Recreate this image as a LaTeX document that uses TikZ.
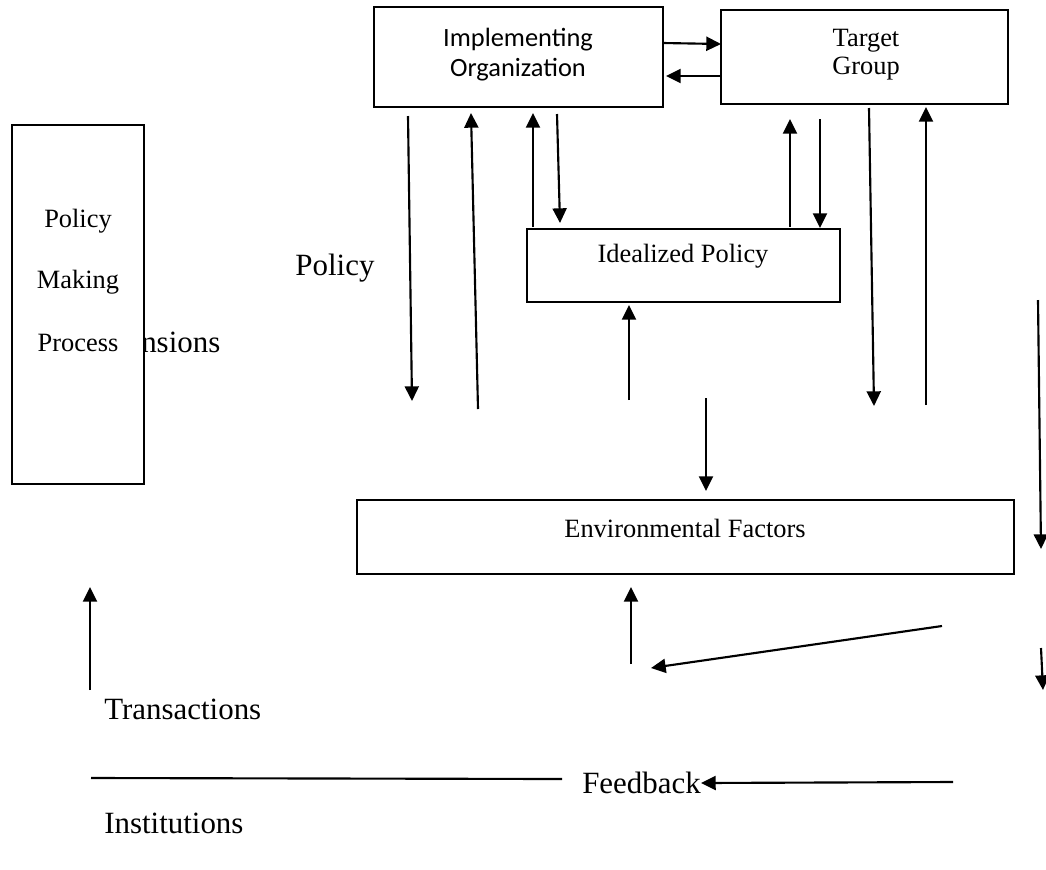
\documentclass[tikz,border=0pt]{standalone}
\usepackage{fontspec}
\setmainfont{Liberation Serif}
\newfontfamily\calfont{Carlito}
\usetikzlibrary{arrows.meta}
\tikzset{
  boxnode/.style={draw=black, line width=1.3pt, fill=white, rectangle, inner sep=0pt},
  txt/.style={inner sep=0pt, font=\fontsize{19.8pt}{23pt}\selectfont},
  bigtxt/.style={inner sep=0pt, font=\fontsize{23.2pt}{27pt}\selectfont},
  sanstxt/.style={inner sep=0pt, font=\calfont\fontsize{19.8pt}{23pt}\selectfont},
  arr/.style={line width=1.6pt, -{Triangle[length=11pt,width=10.5pt]}},
  plain/.style={line width=1.6pt}
}
\begin{document}
\begin{tikzpicture}[x=0.75pt, y=-0.75pt]
\useasboundingbox (0,0) rectangle (1046,869);
% text partly hidden behind the process box
\node[bigtxt, anchor=west] (dim) at (141,342) {nsions};
% boxes
\node[boxnode, minimum width=289*0.75pt, minimum height=100*0.75pt] (io) at (518.5,57) {};
\node[boxnode, minimum width=287*0.75pt, minimum height=94*0.75pt] (tg) at (864.5,57) {};
\node[boxnode, minimum width=132*0.75pt, minimum height=359*0.75pt] (pmp) at (78,304.5) {};
\node[boxnode, minimum width=313*0.75pt, minimum height=73*0.75pt] (ip) at (683.5,265.5) {};
\node[boxnode, minimum width=657*0.75pt, minimum height=74*0.75pt] (ef) at (685.5,537) {};
% box texts
\node[sanstxt] (io1) at (518,40) {Implementing};
\node[sanstxt] (io2) at (518,70) {Organization};
\node[txt] (tg1) at (866,41) {Target};
\node[txt] (tg2) at (866,69) {Group};
\node[txt] (p1) at (78,221) {Policy};
\node[txt] (p2) at (78,282) {Making};
\node[txt] (p3) at (78,343) {Process};
\node[txt] (ipt) at (683,256) {Idealized Policy};
\node[txt] (eft) at (685,528) {Environmental Factors};
% free texts
\node[bigtxt] (pol) at (335,268) {Policy};
\node[bigtxt, anchor=west] (tra) at (104,709) {Transactions};
\node[bigtxt, anchor=west] (fb) at (582,783) {Feedback};
\node[bigtxt, anchor=west] (ins) at (104,823) {Institutions};
% coordinates
\coordinate (a1s) at (408,116); \coordinate (a1e) at (412,401);
\coordinate (a2s) at (478,409); \coordinate (a2e) at (471,113);
\coordinate (a3s) at (533,227); \coordinate (a3e) at (533,113);
\coordinate (a4s) at (557,114); \coordinate (a4e) at (560,223);
\coordinate (a5s) at (629,400); \coordinate (a5e) at (629,305);
\coordinate (a6s) at (706,398); \coordinate (a6e) at (706,491);
\coordinate (a7s) at (790,227); \coordinate (a7e) at (790,119);
\coordinate (a8s) at (820,119); \coordinate (a8e) at (820,228);
\coordinate (a9s) at (869,108); \coordinate (a9e) at (874,406);
\coordinate (a10s) at (926,405); \coordinate (a10e) at (926,107);
\coordinate (a11s) at (1038,300); \coordinate (a11e) at (1041,549);
\coordinate (a12s) at (1041,648); \coordinate (a12e) at (1043,690);
\coordinate (a13s) at (631,664); \coordinate (a13e) at (631,587);
\coordinate (a14s) at (942,626); \coordinate (a14e) at (651,668);
\coordinate (a15s) at (953,782);
\coordinate (l16s) at (91,778); \coordinate (l16e) at (562,779);
\coordinate (a17s) at (90,690); \coordinate (a17e) at (90,587);
\coordinate (h1s) at (663,43); \coordinate (h1e) at (721,44);
\coordinate (h2s) at (721,76); \coordinate (h2e) at (666,76);
% arrows
\draw[arr] (h1s) -- (h1e);
\draw[arr] (h2s) -- (h2e);
\draw[arr] (a1s) -- (a1e);
\draw[arr] (a2s) -- (a2e);
\draw[arr] (a3s) -- (a3e);
\draw[arr] (a4s) -- (a4e);
\draw[arr] (a5s) -- (a5e);
\draw[arr] (a6s) -- (a6e);
\draw[arr] (a7s) -- (a7e);
\draw[arr] (a8s) -- (a8e);
\draw[arr] (a9s) -- (a9e);
\draw[arr] (a10s) -- (a10e);
\draw[arr] (a11s) -- (a11e);
\draw[arr] (a12s) -- (a12e);
\draw[arr] (a13s) -- (a13e);
\draw[arr] (a14s) -- (a14e);
\draw[arr] (a15s) -- (fb.east);
\draw[plain] (l16s) -- (l16e);
\draw[arr] (a17s) -- (a17e);
\end{tikzpicture}
\end{document}
